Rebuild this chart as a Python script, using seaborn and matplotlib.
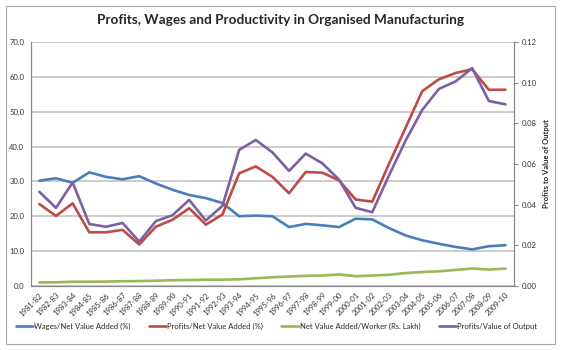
import numpy as np
import pandas as pd
import matplotlib
matplotlib.use('Agg')
import matplotlib.pyplot as plt
from matplotlib.lines import Line2D
from matplotlib.patches import Rectangle
import seaborn as sns

sns.set_style('white')
plt.rcParams['font.family'] = ['Lato', 'DejaVu Sans']

# 연도 (회계연도)
years = ['1981-82', '1982-83', '1983-84', '1984-85', '1985-86', '1986-87', '1987-88',
         '1988-89', '1989-90', '1990-91', '1991-92', '1992-93', '1993-94', '1994-95',
         '1995-96', '1996-97', '1997-98', '1998-99', '1999-00', '2000-01', '2001-02',
         '2002-03', '2003-04', '2004-05', '2005-06', '2006-07', '2007-08', '2008-09',
         '2009-10']

wages_nva = [30.2, 30.9, 29.6, 32.6, 31.3, 30.6, 31.5, 29.4, 27.6, 26.1, 25.2, 23.8, 20.0,
             20.2, 20.0, 16.9, 17.8, 17.4, 16.9, 19.3, 19.1, 16.6, 14.5, 13.1, 12.1, 11.2,
             10.5, 11.4, 11.7]
profits_nva = [23.5, 20.1, 23.7, 15.4, 15.4, 16.1, 11.9, 17.0, 19.0, 22.3, 17.6, 20.5, 32.3,
               34.3, 31.3, 26.6, 32.7, 32.5, 30.3, 24.8, 24.2, 35.0, 45.4, 55.9, 59.3, 61.1,
               62.2, 56.3, 56.3]
nva_worker = [1.0, 1.05, 1.2, 1.2, 1.25, 1.35, 1.4, 1.5, 1.65, 1.7, 1.8, 1.8, 1.9, 2.2, 2.5,
              2.7, 2.9, 3.0, 3.3, 2.8, 3.0, 3.2, 3.7, 4.0, 4.2, 4.6, 5.0, 4.7, 5.0]
profits_output = [0.0463, 0.0384, 0.0509, 0.0305, 0.0291, 0.0310, 0.0218, 0.0319, 0.0348,
                  0.0423, 0.0322, 0.0394, 0.0669, 0.0718, 0.0657, 0.0566, 0.0651, 0.0603,
                  0.0523, 0.0384, 0.0363, 0.0543, 0.0715, 0.0866, 0.0969, 0.1006, 0.1071,
                  0.0910, 0.0893]

labels = ['Wages/Net Value Added (%)', 'Profits/Net Value Added (%)',
          'Net Value Added/Worker (Rs. Lakh)', 'Profits/Value of Output']
colors = ['#4A7EBB', '#BE4B48', '#98B954', '#7D60A0']

df = pd.DataFrame({'pos': np.arange(len(years)), 'year': years,
                   labels[0]: wages_nva, labels[1]: profits_nva,
                   labels[2]: nva_worker, labels[3]: profits_output})
long = df.melt(id_vars=['pos', 'year'], value_vars=labels[:3], var_name='series', value_name='val')

fig = plt.figure(figsize=(5.64, 3.5), dpi=100)
ax = fig.add_axes([0.055, 0.183, 0.856, 0.697])
lw = 1.9
fs = 5.5

sns.lineplot(data=long, x='pos', y='val', hue='series', hue_order=labels[:3],
             palette=colors[:3], linewidth=lw, ax=ax, legend=False)
ax2 = ax.twinx()
sns.lineplot(data=df, x='pos', y=labels[3], color=colors[3], linewidth=lw, ax=ax2)

ax.set_xlim(-0.5, len(years) - 0.5)
ax.set_ylim(0, 70)
ax.set_yticks(np.arange(0, 71, 10))
ax.set_yticklabels([f'{v:.1f}' for v in np.arange(0, 71, 10)], fontsize=fs, color='#333333')
ax.set_xticks(df['pos'])
ax.set_xticklabels(years, rotation=45, ha='right', rotation_mode='anchor', fontsize=fs, color='#333333')
ax.tick_params(axis='x', length=0, pad=4)
ax.tick_params(axis='y', length=0, pad=5)
ax.set_xlabel('')
ax.set_ylabel('')
ax.yaxis.grid(True, color='#BFBFBF', linewidth=1.1)
ax.set_axisbelow(True)

ax2.set_ylim(0, 0.12)
ax2.set_yticks(np.arange(0, 0.121, 0.02))
ax2.set_yticklabels([f'{v:.2f}' for v in np.arange(0, 0.121, 0.02)], fontsize=fs, color='#333333')
ax2.tick_params(axis='y', length=3, width=0.8, color='#888888', pad=3)
ax2.set_ylabel('Profits to Value of Output', fontsize=fs, fontweight='bold', labelpad=4)
ax2.set_xlabel('')

for a in (ax, ax2):
    a.spines['top'].set_visible(False)
    for s in ('left', 'right', 'bottom'):
        a.spines[s].set_color('#888888')
        a.spines[s].set_linewidth(0.8)

fig.suptitle('Profits, Wages and Productivity in Organised Manufacturing',
             fontsize=9.8, fontweight='bold', x=0.497, y=0.96)

handles = [Line2D([], [], color=c, linewidth=lw) for c in colors]
fig.legend(handles, labels, loc='center', bbox_to_anchor=(0.49, 0.068), ncol=4, frameon=False,
           fontsize=fs, handlelength=2.3, handletextpad=0.1, columnspacing=2.4)

fig.patches.append(Rectangle((6 / 564, 6 / 350), 549 / 564, 338 / 350, transform=fig.transFigure,
                             fill=False, edgecolor='#AAAAAA', linewidth=0.8))

fig.savefig('out.png', dpi=100)
